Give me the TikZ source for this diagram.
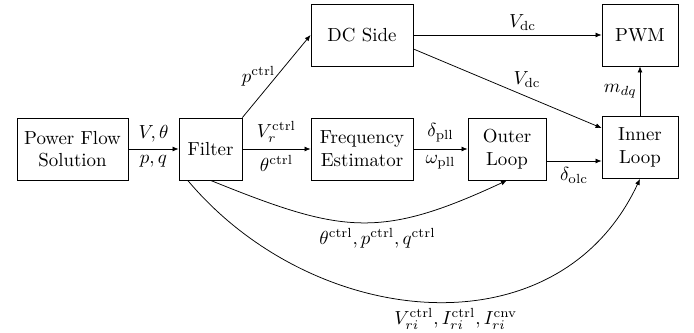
\documentclass[tikz,border=0pt]{standalone}
\usepackage{amsmath}
\usetikzlibrary{arrows.meta}
\tikzset{blk/.style={draw, align=center, minimum height=32.8pt, inner sep=2pt}}
\newcommand{\up}[1]{\mathrm{#1}}

\begin{document}
\begin{tikzpicture}[x=0.5291pt, y=0.5291pt, >={Latex[length=3.2pt,width=2.6pt]}]
  \useasboundingbox (0,0) rectangle (694,333);
  \node[blk, minimum width=58.7pt] (pf)    at (72.5,184)  {Power Flow\\Solution};
  \node[blk, minimum width=33.3pt] (filt)  at (210.5,184) {Filter};
  \node[blk, minimum width=54pt]   (dc)    at (362,298)   {DC Side};
  \node[blk, minimum width=54pt]   (freq)  at (362,184)   {Frequency\\Estimator};
  \node[blk, minimum width=41.3pt] (outer) at (507,184)   {Outer\\Loop};
  \node[blk, minimum width=40.2pt] (inner) at (640,185.5) {Inner\\Loop};
  \node[blk, minimum width=40.2pt] (pwm)   at (640,298)   {PWM};

  \draw[->] (pf) -- node[above] {$V,\theta$} node[below] {$p,q$} (filt);
  \draw[->] (filt) -- node[above] {$V_r^{\up{ctrl}}$} node[below] {$\theta^{\up{ctrl}}$} (freq);
  \draw[->] (freq) -- node[above] {$\delta_{\up{pll}}$} node[below] {$\omega_{\up{pll}}$} (outer);
  \draw[->] ([yshift=-6.35pt]outer.east) -- node[below] {$\delta_{\up{olc}}$} ([yshift=-6.35pt]outer.east -| inner.west);
  \draw[->] (filt.north east) -- node[left, inner sep=0.5pt] {$p^{\up{ctrl}}$} (dc.west);
  \draw[->] (dc) -- node[above, pos=0.58, inner sep=2pt] {$V_{\up{dc}}$} (pwm);
  \draw[->] ([yshift=-7.4pt]dc.east) -- node[above right, pos=0.52, inner sep=1pt] {$V_{\up{dc}}$} ([yshift=10.3pt]inner.west);
  \draw[->] (inner) -- node[left, inner sep=1.5pt] {$m_{dq}$} (pwm);
  \draw[->] (filt.south) to[out=-22, in=-155, looseness=1.22]
    node[below, pos=0.57] {$\theta^{\up{ctrl}},p^{\up{ctrl}},q^{\up{ctrl}}$} (outer.south);
  \draw[->] (filt.234) to[out=-50, in=-115, looseness=1.1]
    node[below, pos=0.55] {$V_{ri}^{\up{ctrl}},I_{ri}^{\up{ctrl}},I_{ri}^{\up{cnv}}$} (inner.south);
\end{tikzpicture}
\end{document}
